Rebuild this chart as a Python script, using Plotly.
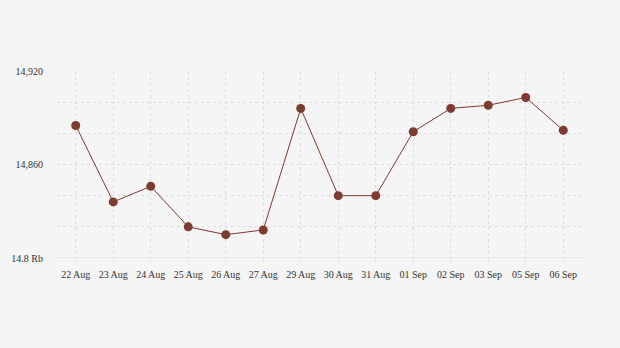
import plotly.graph_objects as go

dates = ["22 Aug", "23 Aug", "24 Aug", "25 Aug", "26 Aug", "27 Aug", "29 Aug",
         "30 Aug", "31 Aug", "01 Sep", "02 Sep", "03 Sep", "05 Sep", "06 Sep"]
values = [14885, 14836, 14846, 14820, 14815, 14818, 14896,
          14840, 14840, 14881, 14896, 14898, 14903, 14882]
y_tickvals = [14800, 14820, 14840, 14860, 14880, 14900, 14920]
y_ticktext = ["14.8 Rb", "", "", "14,860", "", "", "14,920"]

fig = go.Figure()
fig.add_trace(go.Scatter(
    x=dates, y=values, mode="lines+markers",
    line=dict(color="#7d3b31", width=1),
    marker=dict(color="#7d3b31", size=9),
    hoverinfo="x+y",
))

fig.update_layout(
    width=620, height=348,
    margin=dict(l=57, r=38, t=71, b=90),
    paper_bgcolor="#f5f5f5", plot_bgcolor="#f5f5f5",
    font=dict(family="Liberation Serif, Times New Roman, serif", size=10, color="#333333"),
    showlegend=False,
    xaxis=dict(
        type="category", range=[-0.5, 13.5],
        showgrid=True, gridcolor="#dddddd", griddash="dot", gridwidth=1,
        showline=False, zeroline=False,
        ticks="outside", ticklen=4, tickcolor="#e2e2e2", tickwidth=1,
        ticklabelstandoff=3,
        tickfont=dict(size=10, color="#333333"),
    ),
    yaxis=dict(
        range=[14800, 14920], tickvals=y_tickvals, ticktext=y_ticktext,
        showgrid=True, gridcolor="#dddddd", griddash="dot", gridwidth=1,
        zeroline=False, showline=False, ticks="",
        ticklabelstandoff=13,
        tickfont=dict(size=10, color="#333333"),
    ),
)
fig.add_shape(type="line", xref="paper", yref="y", x0=0, x1=1, y0=14800, y1=14800,
              line=dict(color="#d8d8d8", width=1))

fig.write_html("out.html")
